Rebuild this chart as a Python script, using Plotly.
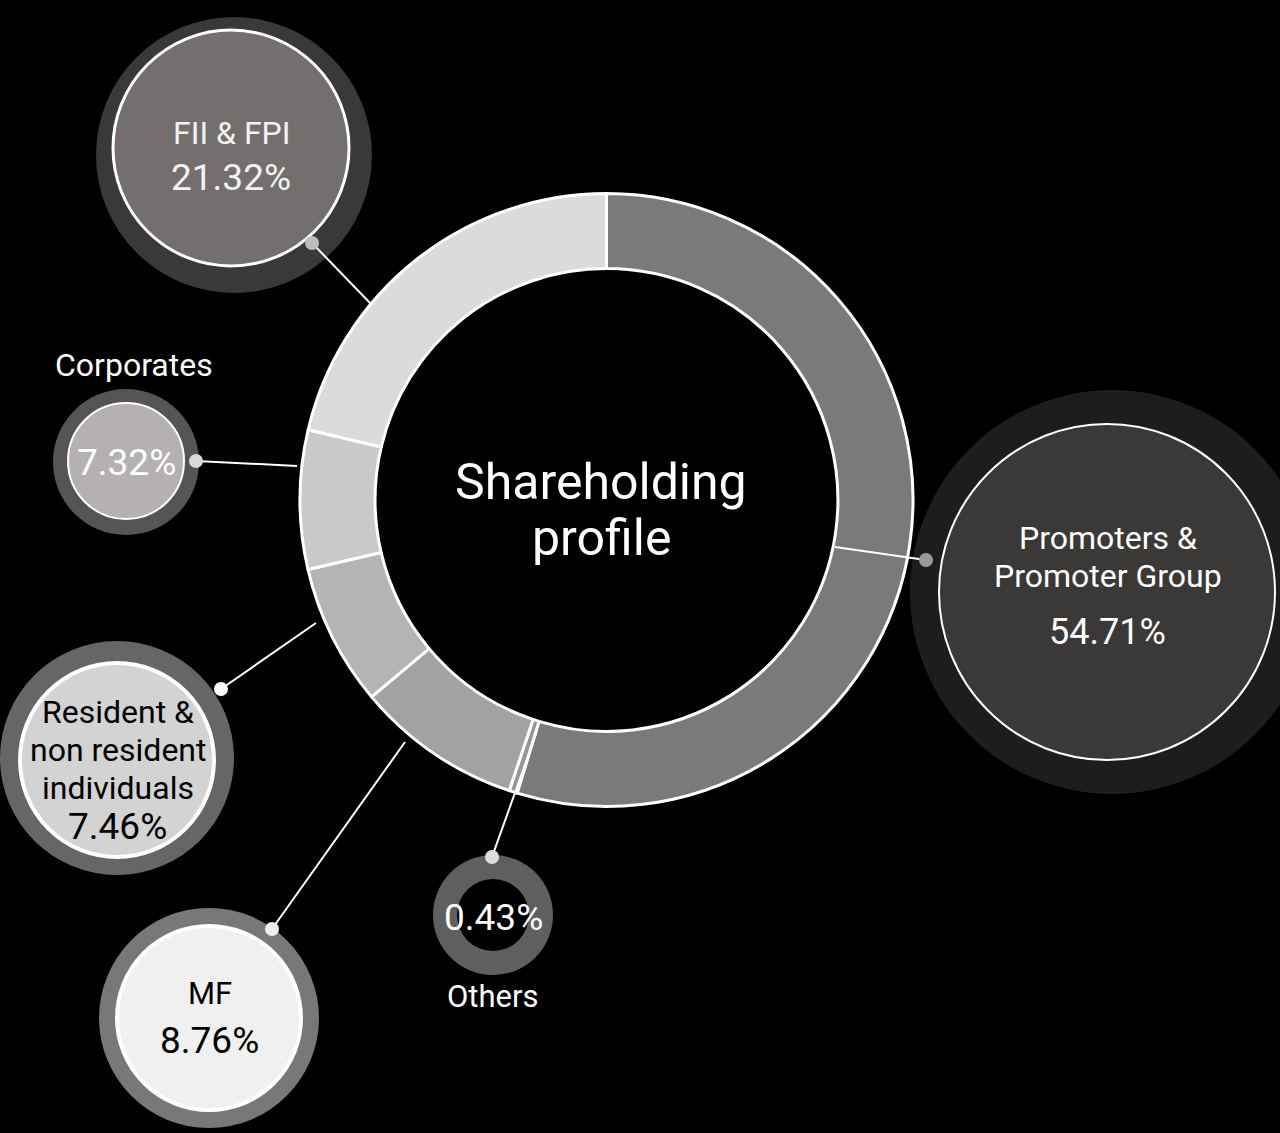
import plotly.graph_objects as go

# ---- data -------------------------------------------------------------------
categories = ["Promoters & Promoter Group", "Others", "MF",
              "Resident & non resident individuals", "Corporates", "FII & FPI"]
shares = [54.71, 0.43, 8.76, 7.46, 7.32, 21.32]

# how each category name is broken over lines inside / next to its bubble
label_lines = [["Promoters &", "Promoter Group"], ["Others"], ["MF"],
               ["Resident &", "non resident", "individuals"], ["Corporates"],
               ["FII & FPI"]]

# ---- styling / layout (pixels, y grows downwards) ---------------------------
W, H = 1280, 1133
FONT = "Roboto"
ring_colors = ["#7a7a7a", "#979797", "#a2a2a2", "#b4b4b4", "#c9c9c9", "#dbdbdb"]
donut_cx, donut_cy, donut_r, donut_hole = 606.5, 500, 306.5, 0.755

# per category: outer ring (cx, cy, r, colour), inner disc (cx, cy, r, fill, border)
bubbles = [
    dict(outer=(1112, 592, 202, "#1e1d1d"), inner=(1107, 592, 168, "#3a3938", 2),
         dot=(926, 560, "#9a9a9a"), line_end=(835, 547), txt="#ffffff", label_x=1108,
         label_y=[538, 576], label_size=32, value_y=632, value_size=36),
    dict(outer=(493, 915, 60, "#5f5f5f"), inner=(493, 915, 36, "#000000", 0),
         dot=(492, 857, "#dddddd"), line_end=(536, 734), txt="#ffffff", label_x=493,
         label_y=[996], label_size=31, value_y=917, value_size=37),
    dict(outer=(209, 1018, 110, "#787878"), inner=(209, 1018, 92, "#f0f0f0", 4),
         dot=(272, 929, "#eeeeee"), line_end=(405, 742), txt="#000000", label_x=210,
         label_y=[993], label_size=31, value_y=1040, value_size=37),
    dict(outer=(117, 758, 117, "#666666"), inner=(117, 760, 97, "#d3d3d3", 4),
         dot=(221, 689, "#ffffff"), line_end=(316, 623), txt="#000000", label_x=118,
         label_y=[712, 750, 788], label_size=32, value_y=826, value_size=37),
    dict(outer=(126, 462, 73, "#555555"), inner=(126, 461, 58, "#b5b1b0", 2),
         dot=(196, 461, "#d9d9d9"), line_end=(297, 466), txt="#ffffff", label_x=134,
         label_y=[365], label_size=32, value_y=462, value_size=37),
    dict(outer=(234, 155, 138, "#3a3939"), inner=(231, 148, 118, "#736f6e", 3),
         dot=(312, 243, "#bdbdbd"), line_end=(372, 305), txt="#f2f2f2", label_x=231,
         label_y=[133], label_size=32, value_y=177, value_size=37),
]


def circle(cx, cy, r, fill, line_color="rgba(0,0,0,0)", line_width=0, layer="below"):
    return dict(type="circle", xref="x", yref="y", x0=cx - r, x1=cx + r,
                y0=cy - r, y1=cy + r, fillcolor=fill, layer=layer,
                line=dict(color=line_color, width=line_width))


fig = go.Figure()

# donut
fig.add_trace(go.Pie(
    labels=categories, values=shares, sort=False, direction="clockwise",
    rotation=0, hole=donut_hole, textinfo="none", hoverinfo="label+value",
    marker=dict(colors=ring_colors, line=dict(color="#ffffff", width=3)),
    domain=dict(x=[(donut_cx - donut_r) / W, (donut_cx + donut_r) / W],
                y=[1 - (donut_cy + donut_r) / H, 1 - (donut_cy - donut_r) / H]),
    showlegend=False,
))
# dummy trace so the pixel-space cartesian axes exist
fig.add_trace(go.Scatter(x=[None], y=[None], showlegend=False, hoverinfo="skip"))

shapes, annotations = [], []
for name, val, lines, b in zip(categories, shares, label_lines, bubbles):
    ocx, ocy, orr, ocol = b["outer"]
    icx, icy, ir, ifill, iw = b["inner"]
    shapes.append(circle(ocx, ocy, orr, ocol))
    shapes.append(circle(icx, icy, ir, ifill, "#ffffff" if iw else ifill, iw))
    dx, dy, dcol = b["dot"]
    ex, ey = b["line_end"]
    shapes.append(dict(type="line", xref="x", yref="y", x0=dx, y0=dy, x1=ex, y1=ey,
                       line=dict(color="#ffffff", width=2), layer="above"))
    shapes.append(circle(dx, dy, 7, dcol, layer="above"))

    # label text: light text next to the bubble for Others/Corporates
    lab_col = b["txt"] if name not in ("Others", "Corporates") else "#ffffff"
    for txt, y in zip(lines, b["label_y"]):
        annotations.append(dict(x=b["label_x"], y=y, xref="x", yref="y", text=txt,
                                showarrow=False,
                                font=dict(family=FONT, size=b["label_size"], color=lab_col)))
    annotations.append(dict(x=icx, y=b["value_y"], xref="x", yref="y",
                            text=f"{val:.2f}%", showarrow=False,
                            font=dict(family=FONT, size=b["value_size"], color=b["txt"])))

# title inside the donut
for txt, y in zip(["Shareholding", "profile"], [482, 538]):
    annotations.append(dict(x=601, y=y, xref="x", yref="y", text=txt, showarrow=False,
                            font=dict(family=FONT, size=50, color="#ffffff")))

fig.update_layout(
    width=W, height=H, margin=dict(l=0, r=0, t=0, b=0),
    paper_bgcolor="#000000", plot_bgcolor="#000000",
    xaxis=dict(range=[0, W], visible=False, fixedrange=True),
    yaxis=dict(range=[H, 0], visible=False, fixedrange=True),
    shapes=shapes, annotations=annotations, showlegend=False,
)

fig.write_html(
    "out.html",
    config={"displayModeBar": False},
    post_script="document.body.style.margin='0';"
                "document.body.style.background='#000';"
                "document.body.style.overflow='hidden';",
)
